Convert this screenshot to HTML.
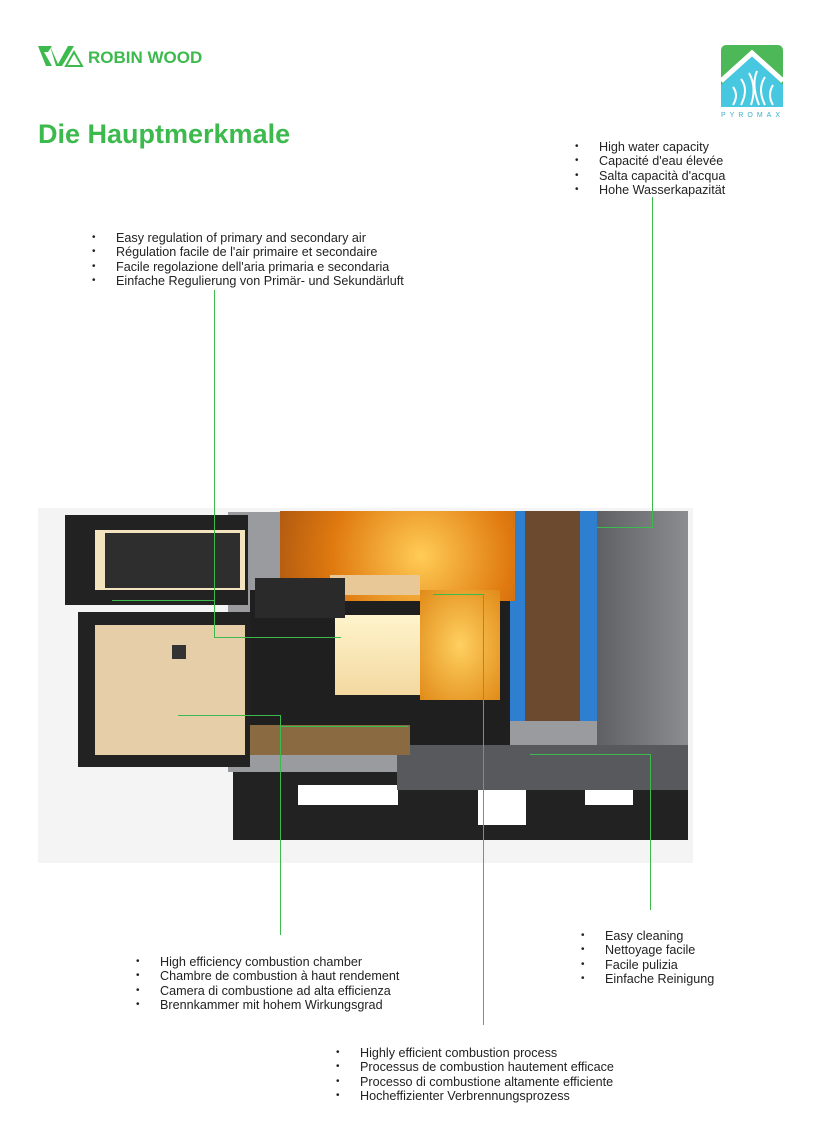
<!DOCTYPE html>
<html><head><meta charset="utf-8"><style>
body{margin:0;width:826px;height:1141px;background:#fff;position:relative;overflow:hidden;font-family:"Liberation Sans",sans-serif;}
.a{position:absolute}
.t{position:absolute;font-size:12.6px;line-height:14.3px;color:#222;white-space:nowrap}
.t div{position:relative;padding-left:24px}
.t div:before{content:"•";position:absolute;left:0;font-size:10px}
.g{position:absolute;background:#3dba4e}
</style></head><body>
<!-- logo -->
<svg class="a" style="left:36px;top:44px" width="170" height="24">
<path d="M2 2h14l-4 6h-4l8 14h-6z" fill="#3dba4e"/>
<path d="M14 2l8 18 10-18h6l-12 20h-6z" fill="#3dba4e"/>
<path d="M30 22l8-14 8 14z" fill="none" stroke="#3dba4e" stroke-width="2"/>
<text x="52" y="19" font-family="Liberation Sans" font-weight="bold" font-size="17" fill="#3dba4e">ROBIN WOOD</text>
</svg>
<div class="a" style="left:38px;top:119px;font-size:27px;font-weight:bold;color:#3dba4e">Die Hauptmerkmale</div>
<svg class="a" style="left:721px;top:45px" width="62" height="62">
<rect width="62" height="62" rx="5" fill="#4cb857"/>
<path d="M0 40L31 10L62 40V62H0z" fill="#48c8e0"/>
<path d="M0 36L31 8L62 36" fill="none" stroke="#fff" stroke-width="5"/>
<path d="M12 42q6 8 0 18M20 34q8 10 0 26M28 28q8 14 2 32M36 26q-6 14 2 34M44 32q-8 12 0 28M52 40q-6 10 0 20" stroke="#fff" stroke-width="2" fill="none"/>
</svg>
<div class="a" style="left:721px;top:112px;font-size:7px;letter-spacing:4px;color:#3ab0c8">PYROMAX</div>

<!-- boiler -->
<div class="a" style="left:38px;top:508px;width:655px;height:355px;background:#f4f4f4"></div>
<div class="a" style="left:233px;top:770px;width:455px;height:70px;background:#222"></div>
<div class="a" style="left:298px;top:785px;width:100px;height:20px;background:#fff"></div>
<div class="a" style="left:478px;top:785px;width:48px;height:40px;background:#fff"></div>
<div class="a" style="left:585px;top:770px;width:48px;height:35px;background:#fff"></div>
<div class="a" style="left:228px;top:512px;width:372px;height:260px;background:#9a9b9f"></div>
<div class="a" style="left:597px;top:511px;width:91px;height:240px;background:linear-gradient(90deg,#5f6064,#8c8d91)"></div>
<div class="a" style="left:397px;top:745px;width:291px;height:45px;background:#58595c"></div>
<div class="a" style="left:510px;top:511px;width:87px;height:210px;background:#2f7fd0"></div>
<div class="a" style="left:525px;top:511px;width:55px;height:210px;background:#6b4a30"></div>
<div class="a" style="left:250px;top:590px;width:260px;height:155px;background:#1f1f1f"></div>
<div class="a" style="left:280px;top:511px;width:235px;height:90px;background:radial-gradient(circle at 60% 50%,#ffcc55,#e07a10 60%,#b25a10)"></div>
<div class="a" style="left:335px;top:615px;width:160px;height:80px;background:linear-gradient(#fff4cc,#f3d8a0)"></div>
<div class="a" style="left:420px;top:590px;width:80px;height:110px;background:radial-gradient(#ffd060,#e08a18)"></div>
<div class="a" style="left:330px;top:575px;width:90px;height:20px;background:#e8c896"></div>
<div class="a" style="left:255px;top:578px;width:90px;height:40px;background:#2a2a2a"></div>
<div class="a" style="left:65px;top:515px;width:183px;height:90px;background:#222"></div>
<div class="a" style="left:95px;top:530px;width:150px;height:60px;background:#f3e3bf"></div>
<div class="a" style="left:105px;top:533px;width:135px;height:55px;background:#2e2e2e"></div>
<div class="a" style="left:78px;top:612px;width:172px;height:155px;background:#222"></div>
<div class="a" style="left:95px;top:625px;width:150px;height:130px;background:#e6cfa8"></div>
<div class="a" style="left:172px;top:645px;width:14px;height:14px;background:#333"></div>
<div class="a" style="left:250px;top:725px;width:160px;height:30px;background:#8a6a40"></div>

<!-- leader lines -->
<div class="g" style="left:214px;top:290px;width:1px;height:348px"></div>
<div class="g" style="left:214px;top:637px;width:127px;height:1px"></div>
<div class="g" style="left:112px;top:600px;width:102px;height:1px"></div>
<div class="g" style="left:652px;top:197px;width:1px;height:330px"></div>
<div class="g" style="left:597px;top:527px;width:56px;height:1px"></div>
<div class="g" style="left:483px;top:594px;width:1px;height:431px"></div>
<div class="g" style="left:433px;top:594px;width:51px;height:1px"></div>
<div class="g" style="left:280px;top:715px;width:1px;height:220px"></div>
<div class="g" style="left:178px;top:715px;width:102px;height:1px"></div>
<div class="g" style="left:280px;top:726px;width:128px;height:1px"></div>
<div class="g" style="left:650px;top:754px;width:1px;height:156px"></div>
<div class="g" style="left:530px;top:754px;width:121px;height:1px"></div>

<!-- texts -->
<div class="t" style="left:92px;top:231px"><div>Easy regulation of primary and secondary air</div><div>Régulation facile de l'air primaire et secondaire</div><div>Facile regolazione dell'aria primaria e secondaria</div><div>Einfache Regulierung von Primär- und Sekundärluft</div></div>
<div class="t" style="left:575px;top:140px"><div>High water capacity</div><div>Capacité d'eau élevée</div><div>Salta capacità d'acqua</div><div>Hohe Wasserkapazität</div></div>
<div class="t" style="left:136px;top:955px"><div>High efficiency combustion chamber</div><div>Chambre de combustion à haut rendement</div><div>Camera di combustione ad alta efficienza</div><div>Brennkammer mit hohem Wirkungsgrad</div></div>
<div class="t" style="left:581px;top:929px"><div>Easy cleaning</div><div>Nettoyage facile</div><div>Facile pulizia</div><div>Einfache Reinigung</div></div>
<div class="t" style="left:336px;top:1046px"><div>Highly efficient combustion process</div><div>Processus de combustion hautement efficace</div><div>Processo di combustione altamente efficiente</div><div>Hocheffizienter Verbrennungsprozess</div></div>
</body></html>
